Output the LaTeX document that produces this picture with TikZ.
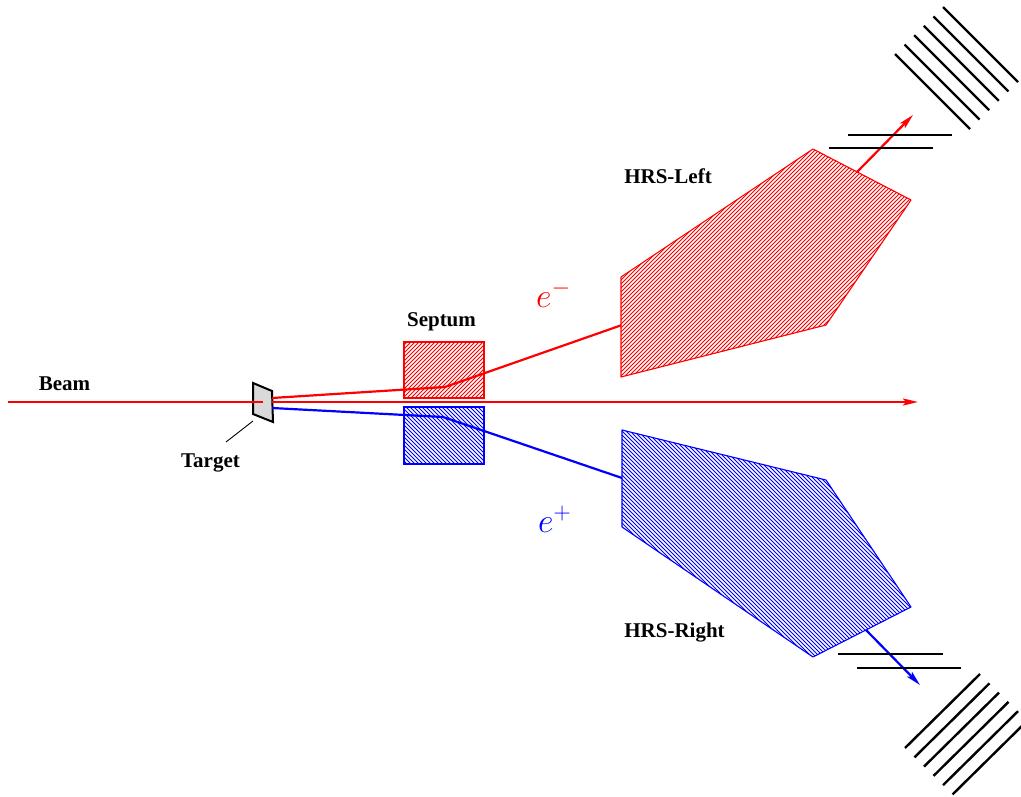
\RequirePackage{fix-cm}
\documentclass[tikz,border=0pt]{standalone}
\usepackage{fontspec}
\setmainfont{Liberation Serif}
\usetikzlibrary{arrows.meta,patterns.meta,calc}

\tikzset{
  lbl/.style={font=\fontsize{21}{24}\selectfont\bfseries, inner sep=0pt, anchor=base},
  particle/.style={font=\fontsize{34}{40}\selectfont, inner sep=0pt, anchor=base west},
  beamline/.style={red, line width=2.4pt},
  track/.style={line width=2.2pt},
  tip/.style={-{Stealth[length=15pt,width=7pt,inset=3pt]}},
  plane/.style={black, line width=2.6pt},
  magnet/.style={line width=1.1pt},
  hatchred/.style={pattern={Lines[angle=45,distance=2.8284pt,line width=1pt]}, pattern color=red},
  hatchblue/.style={pattern={Lines[angle=-45,distance=2.8284pt,line width=1pt]}, pattern color=blue},
}

\begin{document}
\begin{tikzpicture}[x=1pt,y=-1pt]
  \useasboundingbox (0,0) rectangle (1021,797);
  \clip (0,0) rectangle (1021,797);

  % target foil
  \coordinate (tc) at (263,402);
  \filldraw[fill=black!15, draw=black, line width=2pt]
    (253,383) -- (272,391) -- (273,422) -- (253,414) -- cycle;
  \coordinate (tgtfoot) at (253,421);
  \coordinate (tgtlead) at (226,442);
  \draw[black, line width=0.9pt] (tgtfoot) -- (tgtlead);

  % beam: incoming up to the foil, outgoing to the dump
  \coordinate (beamin) at (8,402);
  \coordinate (beamout) at (272,402);
  \coordinate (dump) at (918,402);
  \draw[beamline] (beamin) -- (tc);
  \draw[beamline, tip] (beamout) -- (dump);

  % septum magnets
  \filldraw[hatchred] (404,342) rectangle (484,398);
  \draw[red, magnet] (404,342) rectangle (484,398);
  \filldraw[hatchblue] (404,407) rectangle (484,464);
  \draw[blue, magnet] (404,407) rectangle (484,464);

  % scattered tracks
  \coordinate (eminus0) at (272,398);
  \coordinate (eminus1) at (445,387);
  \coordinate (eminus2) at (622,325);
  \coordinate (eminus3) at (857,172);
  \coordinate (eplus0) at (272,408);
  \coordinate (eplus1) at (443,417);
  \coordinate (eplus2) at (622,478);
  \coordinate (eplus3) at (866,630);
  \draw[red, track, line join=round] (eminus0) -- (eminus1) -- (eminus2) -- (eminus3);
  \draw[blue, track, line join=round] (eplus0) -- (eplus1) -- (eplus2) -- (eplus3);

  % spectrometers
  \fill[white] (621,277) -- (813,149) -- (911,200) -- (826,325) -- (621,377) -- cycle;
  \fill[hatchred] (621,277) -- (813,149) -- (911,200) -- (826,325) -- (621,377) -- cycle;
  \draw[red, magnet, line join=round] (621,277) -- (813,149) -- (911,200) -- (826,325) -- (621,377) -- cycle;

  \fill[white] (622,430) -- (826,480) -- (911,607) -- (813,657) -- (622,527) -- cycle;
  \fill[hatchblue] (622,430) -- (826,480) -- (911,607) -- (813,657) -- (622,527) -- cycle;
  \draw[blue, magnet, line join=round] (622,430) -- (826,480) -- (911,607) -- (813,657) -- (622,527) -- cycle;

  % tracks leaving the spectrometers
  \coordinate (emend) at (913,115);
  \coordinate (epend) at (920,685);
  \draw[red, track, tip] (eminus3) -- (emend);
  \draw[blue, track, tip] (eplus3) -- (epend);

  % wire chambers, left arm
  \draw[plane] (848,135) -- (952,135);
  \draw[plane] (829,148) -- (933,148);
  % scintillator / calorimeter layers, left arm
  \foreach \k in {0,...,5}
    \draw[plane, line width=2.4pt] ($(895,54)+(9.6*\k,-9.4*\k)$) -- ++(75,75);

  % wire chambers, right arm
  \draw[plane] (838,654) -- (943,654);
  \draw[plane] (857,668) -- (961,668);
  % scintillator / calorimeter layers, right arm
  \foreach \k in {0,...,5}
    \draw[plane, line width=2.4pt] ($(905,748)+(9.5*\k,9.3*\k)$) -- ++(75,-74);

  % labels
  \node[lbl] (beamlbl) at (64.5,390) {Beam};
  \node[lbl] (targetlbl) at (210.5,467) {Target};
  \node[lbl] (septumlbl) at (441.5,326) {Septum};
  \node[lbl] (hrsl) at (668,184) {HRS-Left};
  \node[lbl] (hrsr) at (674.5,637) {HRS-Right};
  \node[particle, red] (em) at (536,307) {$e^-$};
  \node[particle, blue] (ep) at (538,532) {$e^+$};
\end{tikzpicture}
\end{document}
